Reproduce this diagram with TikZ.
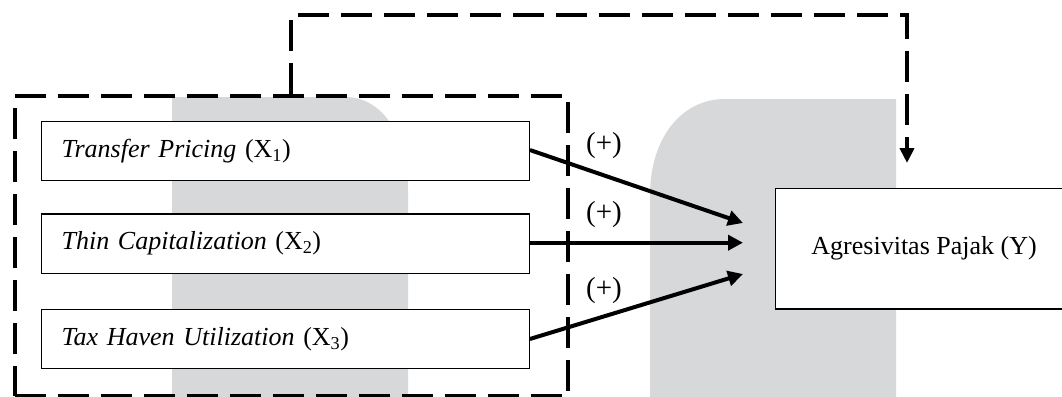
\documentclass[tikz,border=0pt]{standalone}
\usepackage{fontspec}
\setmainfont{Liberation Serif}
\usetikzlibrary{arrows.meta}
\definecolor{wmgrey}{RGB}{215,216,218}
\begin{document}
\begin{tikzpicture}[x=1pt,y=-1pt,
  txt/.style={font=\fontsize{26}{30}\selectfont},
  varbox/.style={txt,draw,line width=1.2pt,fill=white,anchor=north west,
    minimum width=487.7pt,minimum height=59.5pt,text width=447.7pt,
    inner xsep=20pt,inner ysep=0pt,align=left},
  ybox/.style={txt,draw,line width=1.2pt,fill=white,anchor=north west,
    minimum width=298pt,minimum height=120.5pt,inner sep=0pt},
  grpbox/.style={draw,line width=4pt,dash pattern=on 31pt off 12pt,
    anchor=north west,minimum width=553.5pt,minimum height=300pt,inner sep=0pt},
  dashline/.style={line width=4pt,dash pattern=on 31pt off 12pt},
  effect/.style={line width=4pt,-{Triangle[length=15pt,width=15pt]}},
  sign/.style={font=\fontsize{29}{33}\selectfont}]
\useasboundingbox (0,0) rectangle (1062,396);
% watermark shapes
\fill[wmgrey] (172,420) -- (172,97) -- (345,97) .. controls (385,97) and (408,140) .. (408,190) -- (408,420) -- cycle;
\fill[wmgrey] (650,420) -- (650,195) .. controls (650,140) and (680,99) .. (725,99) -- (896,99) -- (896,420) -- cycle;
% group
\node[grpbox] (grp) at (12.5,94) {};
% variable boxes
\node[varbox] (x1) at (41,120.7) {\textit{Transfer Pricing} (X\textsubscript{1})};
\node[varbox] (x2) at (41,213.3) {\textit{Thin Capitalization} (X\textsubscript{2})};
\node[varbox] (x3) at (41,308.7) {\textit{Tax Haven Utilization} (X\textsubscript{3})};
\node[ybox] (y) at (774.5,187.8) {Agresivitas Pajak (Y)};
% arrow tips
\coordinate (t1) at (743,223);
\coordinate (t2) at (743,242.7);
\coordinate (t3) at (743,274);
\draw[effect] (x1.east |- 0,150) -- (t1);
\draw[effect] (x2.east |- 0,242.7) -- (t2);
\draw[effect] (x3.east |- 0,339) -- (t3);
% signs
\node[sign] (s1) at (604,146) {(+)};
\node[sign] (s2) at (604,215) {(+)};
\node[sign] (s3) at (604,291) {(+)};
% moderating dashed connector
\coordinate (c1) at (291,15);
\coordinate (ytip) at (907,163);
\draw[dashline,-{Triangle[length=15pt,width=14pt]}] (grp.north -| c1) -- (c1) -| (ytip);
\end{tikzpicture}
\end{document}
